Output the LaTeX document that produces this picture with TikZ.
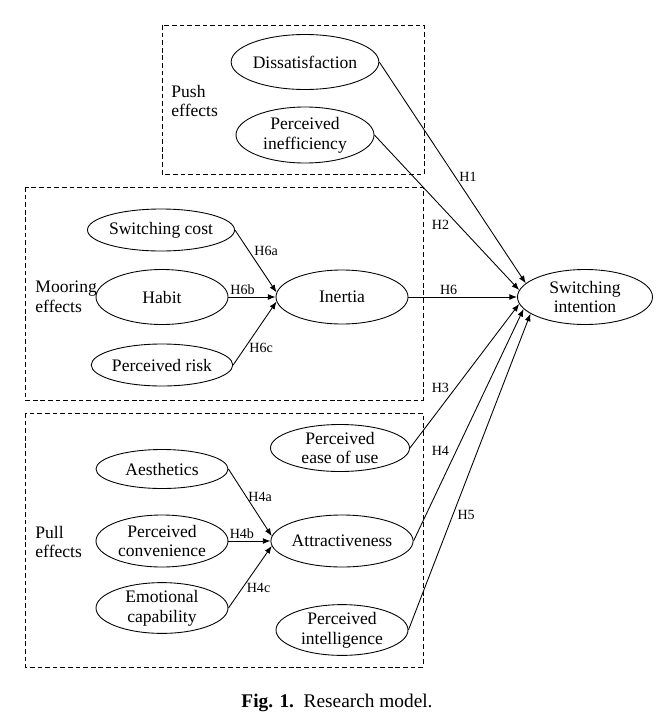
\documentclass[tikz,border=0pt]{standalone}
\usepackage{fontspec}
\setmainfont{Liberation Serif}
\usetikzlibrary{shapes.geometric,arrows.meta}
\begin{document}
\begin{tikzpicture}[x=0.03cm, y=-0.03cm, line width=0.75pt, >={Latex[length=6.5pt,width=5pt]},
    construct/.style={draw, ellipse, inner sep=0pt, align=center,
        minimum width=3.96cm, minimum height=1.5cm, font=\fontsize{15}{17}\selectfont},
    group/.style={draw, dash pattern=on 4pt off 2.5pt, line width=0.75pt},
    grouplabel/.style={anchor=west, align=left, inner sep=0pt, font=\fontsize{15}{17}\selectfont},
    hyp/.style={inner sep=1.5pt, font=\fontsize{12}{14}\selectfont}]

    \useasboundingbox (0,0) rectangle (663,725);

    % --- Riquadri tratteggiati (push, mooring, pull) ---
    \draw[group] (162,25) rectangle (424,174);
    \draw[group] (25,187) rectangle (423,400);
    \draw[group] (25,413) rectangle (423,667);

    \node[grouplabel] (pushlbl) at (171,101) {Push\\effects};
    \node[grouplabel] (moorlbl) at (35,297) {Mooring\\effects};
    \node[grouplabel] (pulllbl) at (35,542) {Pull\\effects};

    % --- Costrutti ---
    \node[construct, minimum width=4.14cm, minimum height=1.65cm] (dis) at (305,62) {Dissatisfaction};
    \node[construct, minimum width=4.14cm, minimum height=1.68cm] (ineff) at (305,135) {Perceived\\inefficiency};

    \node[construct, minimum height=1.26cm] (swc) at (161,230) {Switching cost};
    \node[construct, minimum height=1.65cm] (habit) at (162,297) {Habit};
    \node[construct, minimum height=1.26cm] (risk) at (162,365) {Perceived risk};
    \node[construct, minimum height=1.62cm] (inertia) at (342,297) {Inertia};

    \node[construct, minimum width=4.17cm, minimum height=1.41cm] (ease) at (340,448) {Perceived\\ease of use};
    \node[construct, minimum height=1.17cm] (aes) at (162,469) {Aesthetics};
    \node[construct, minimum height=1.56cm] (conv) at (162,541) {Perceived\\convenience};
    \node[construct, minimum height=1.5cm] (emo) at (162,608) {Emotional\\capability};
    \node[construct, minimum height=1.56cm] (attr) at (342,541) {Attractiveness};
    \node[construct, minimum height=1.5cm] (intel) at (342,630) {Perceived\\intelligence};

    \node[construct, minimum width=4.05cm, minimum height=1.65cm] (si) at (585,297) {Switching\\intention};

    % --- Frecce verso Inertia ---
    \draw[->] (swc.east) -- (inertia.176) node[hyp, pos=.33, right=3pt] (h6a) {H6a};
    \draw[->] (habit.east) -- (inertia.west) node[hyp, pos=.3, above] (h6b) {H6b};
    \draw[->] (risk.east) -- (inertia.184) node[hyp, pos=.27, right=2pt] (h6c) {H6c};

    % --- Frecce verso Attractiveness ---
    \draw[->] (aes.east) -- (attr.176) node[hyp, pos=.41, right=0pt] (h4a) {H4a};
    \draw[->] (conv.east) -- (attr.west) node[hyp, pos=.32, above] (h4b) {H4b};
    \draw[->] (emo.east) -- (attr.184) node[hyp, pos=.32, right=2pt] (h4c) {H4c};

    % --- Frecce verso Switching intention ---
    \draw[->] (dis.east) -- (si.167) node[hyp, pos=.52, right=1.5pt] (h1) {H1};
    \draw[->] (ineff.east) -- (si.174) node[hyp, pos=.58, left=6pt] (h2) {H2};
    \draw[->] (inertia.east) -- (si.west) node[hyp, pos=.37, above] (h6) {H6};
    \draw[->] (ease.east) -- (si.186) node[hyp, pos=.42, left=4pt] (h3) {H3};
    \draw[->] (attr.east) -- (si.191) node[hyp, pos=.39, left=4.5pt] (h4) {H4};
    \draw[->] (intel.east) -- (si.197) node[hyp, pos=.365, right=2pt] (h5) {H5};

    % --- Didascalia ---
    \node[font=\fontsize{16.5}{19}\selectfont] (caption) at (337,703) {\textbf{Fig. 1.}\enspace Research model.};

\end{tikzpicture}
\end{document}
